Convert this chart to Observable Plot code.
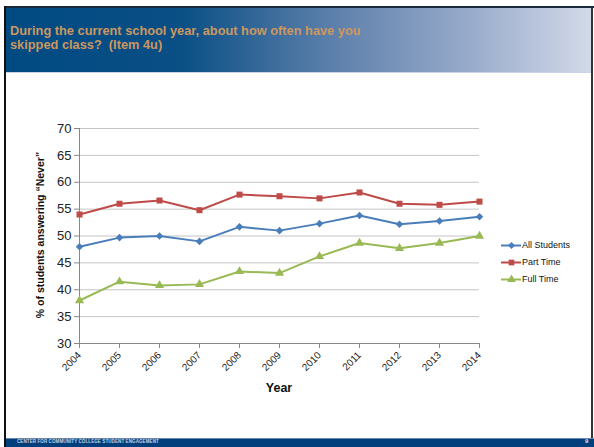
<!DOCTYPE html>
<html>
<head>
<meta charset="utf-8">
<script src="https://cdn.jsdelivr.net/npm/d3@7"></script>
<script src="https://cdn.jsdelivr.net/npm/@observablehq/plot@0.6"></script>
<style>
  html, body { margin: 0; padding: 0; background: #fff; }
  #page { position: relative; width: 594px; height: 447px; overflow: hidden; background: #fff; font-family: "Liberation Sans", Arial, sans-serif; }
  #topline { position: absolute; left: 4px; top: 6px; width: 590px; height: 2px; background: #1a2a3a; }
  #leftline { position: absolute; left: 4px; top: 6px; width: 2px; height: 441px; background: #111; }
  #rightline { position: absolute; left: 591px; top: 8px; width: 2px; height: 430px; background: #333; }
  #header { position: absolute; left: 6px; top: 8px; width: 585px; height: 64px;
    background: linear-gradient(to right, #004a82 0%, #0a4f85 30%, #5a7eaa 55%, #9aaccc 80%, #d2dae8 100%); }
  #headerline { position: absolute; left: 6px; top: 72px; width: 585px; height: 1px; background: #c8d4e6; }
  #title { position: absolute; left: 10px; top: 24px; color: #cc9760; font-weight: bold; font-size: 12.8px; line-height: 14px; font-family: "Liberation Sans", Arial, sans-serif; }
  #footer { position: absolute; left: 6px; top: 438px; width: 588px; height: 9px; background: #003e7c; border-top: 1px solid #6a86aa; box-sizing: border-box; }
  #foottext { position: absolute; left: 17px; top: 439px; color: #c8d2e0; font-size: 4.5px; font-weight: bold; letter-spacing: 0.1px; }
  #pagenum { position: absolute; left: 585px; top: 438px; color: #e0e6ee; font-size: 6px; font-weight: bold; }
  #chart { position: absolute; left: 0; top: 100px; }
  #ylabel { position: absolute; left: 40px; top: 235px; transform: translate(-50%, -50%) rotate(-90deg); white-space: nowrap; font-weight: bold; font-size: 10.5px; color: #111; }
  #xlabel { position: absolute; left: 279px; top: 381px; transform: translateX(-50%); font-weight: bold; font-size: 12.5px; color: #111; }
  #legend { position: absolute; left: 501px; top: 236px; font-size: 9px; color: #111; }
  .li { display: flex; align-items: center; height: 17px; }
  .li svg { margin-right: 1px; }
</style>
</head>
<body>
<div id="page">
  <div id="header"></div>
  <div id="headerline"></div>
  <div id="topline"></div>
  <div id="leftline"></div>
  <div id="rightline"></div>
  <div id="title">During the current school year, about how often have you<br>skipped class?&nbsp; (Item 4u)</div>
  <div id="chart"></div>
  <div id="ylabel">% of students answering “Never”</div>
  <div id="xlabel">Year</div>
  <div id="legend"></div>
  <div id="footer"></div>
  <div id="foottext">CENTER FOR COMMUNITY COLLEGE STUDENT ENGAGEMENT</div>
  <div id="pagenum">9</div>
</div>
<script>
const years = [2004, 2005, 2006, 2007, 2008, 2009, 2010, 2011, 2012, 2013, 2014];
const allStudents = [48.0, 49.7, 50.0, 49.0, 51.7, 51.0, 52.3, 53.8, 52.2, 52.8, 53.6];
const partTime    = [54.0, 56.0, 56.6, 54.8, 57.7, 57.4, 57.0, 58.1, 56.0, 55.8, 56.4];
const fullTime    = [38.0, 41.5, 40.8, 41.0, 43.4, 43.1, 46.2, 48.7, 47.7, 48.7, 50.0];
const seriesNames = ["All Students", "Part Time", "Full Time"];
const seriesColors = ["#4a7ebb", "#be4b48", "#98b954"];
const seriesSymbols = ["diamond2", "square", "triangle"];
const yTicks = [30, 35, 40, 45, 50, 55, 60, 65, 70];

const valuesBySeries = [allStudents, partTime, fullTime];
const data = [];
seriesNames.forEach((s, i) => {
  years.forEach((y, j) => data.push({series: s, year: y, value: valuesBySeries[i][j]}));
});

const chart = Plot.plot({
  width: 594,
  height: 320,
  marginLeft: 79,
  marginRight: 115,
  marginTop: 28,
  marginBottom: 77,
  style: {fontFamily: "'Liberation Sans', Arial, sans-serif", background: "transparent", overflow: "visible"},
  x: {domain: [2004, 2014]},
  y: {domain: [30, 70]},
  color: {domain: seriesNames, range: seriesColors},
  symbol: {domain: seriesNames, range: seriesSymbols},
  marks: [
    Plot.gridY(yTicks, {stroke: "#c4c4c4", strokeOpacity: 1, strokeWidth: 1}),
    Plot.axisY({ticks: yTicks, tickSize: 5, tickPadding: 3, fontSize: 13, color: "#222", label: null, stroke: "#888"}),
    Plot.axisX({ticks: years, tickFormat: d => String(d), tickSize: 5, tickRotate: -45, tickPadding: 5, fontSize: 10, label: null, stroke: "#888"}),
    Plot.ruleX([2004], {stroke: "#888"}),
    Plot.ruleY([30], {stroke: "#888"}),
    Plot.line(data, {x: "year", y: "value", z: "series", stroke: "series", strokeWidth: 2}),
    Plot.dot(data, {x: "year", y: "value", symbol: "series", fill: "series", stroke: null, r: 3.4})
  ]
});
chart.querySelectorAll('g[aria-label="x-axis tick label"] text').forEach(t => t.setAttribute("fill", "#222"));
document.getElementById("chart").appendChild(chart);

// Legend
const legend = document.getElementById("legend");
seriesNames.forEach((s, i) => {
  const row = document.createElement("div");
  row.className = "li";
  const sw = Plot.plot({
    width: 20, height: 10, margin: 0,
    x: {domain: [0, 1], axis: null}, y: {domain: [0, 1], axis: null},
    style: {background: "transparent", overflow: "visible"},
    marks: [
      Plot.ruleY([0.5], {x1: 0, x2: 1, stroke: seriesColors[i], strokeWidth: 2}),
      Plot.dot([0.5], {x: d => d, y: 0.5, symbol: seriesSymbols[i], fill: seriesColors[i], r: 3.2})
    ]
  });
  row.appendChild(sw);
  const lab = document.createElement("span");
  lab.textContent = s;
  row.appendChild(lab);
  legend.appendChild(row);
});
</script>
</body>
</html>
